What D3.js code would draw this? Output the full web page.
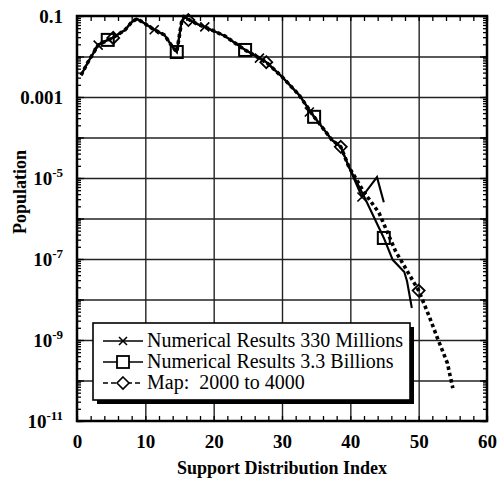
<!DOCTYPE html>
<html><head><meta charset="utf-8">
<script src="https://cdn.jsdelivr.net/npm/d3@7/dist/d3.min.js"></script>
<style>
html,body{margin:0;padding:0;background:#fff;}
svg{display:block;}
text{font-family:"Liberation Serif","Times New Roman",serif;white-space:pre;}
</style></head>
<body>
<svg id="chart" width="498" height="484"></svg>
<script>
// ---------- data ----------
const xTicks = [0, 10, 20, 30, 40, 50, 60];
const yTicks = [1e-1, 1e-3, 1e-5, 1e-7, 1e-9, 1e-11];
const yTickBase = ["0.1", "0.001", "10", "10", "10", "10"];
const yTickExp  = ["", "", "-5", "-7", "-9", "-11"];
const seriesNames = ["Numerical Results 330 Millions", "Numerical Results 3.3 Billions", "Map:  2000 to 4000"];
const xLabel = "Support Distribution Index";
const yLabel = "Population";

// shared main body of the curves
const mainX = [0.6, 1.6, 3.1, 4.4, 5.1, 7.0, 8.0, 8.75, 9.6, 11.1, 12.8, 14.0, 14.6, 15.3, 15.7, 16.5, 17.6, 18.7, 21.6, 24.6, 27.7, 30.0, 32.5, 34.7, 35.4, 37.3, 38.6, 39.8];
const mainY = [3.47e-3, 7.24e-3, 1.91e-2, 2.51e-2, 2.82e-2, 4.47e-2, 7.08e-2, 8.51e-2, 7.08e-2, 4.79e-2, 3.39e-2, 1.70e-2, 1.29e-2, 7.08e-2, 9.55e-2, 7.94e-2, 6.31e-2, 5.37e-2, 3.24e-2, 1.45e-2, 7.24e-3, 3.16e-3, 1.12e-3, 3.24e-4, 2.29e-4, 8.71e-5, 5.89e-5, 1.86e-5];

// tails (each series continues from the shared body)
const tail330X = [41.7, 43.9, 44.9];
const tail330Y = [3.39e-6, 1.05e-5, 2.51e-6];
const tail33bX = [42.0, 44.9, 46.2, 47.9, 48.3, 49.0];
const tail33bY = [3.55e-6, 3.31e-7, 9.55e-8, 4.79e-8, 2.82e-8, 6.17e-9];
const tailMapX = [42.0, 44.2, 46.6, 50.0, 51.5, 52.7, 54.2, 55.0];
const tailMapY = [4.47e-6, 1.38e-6, 1.58e-7, 1.66e-8, 3.98e-9, 1.17e-9, 2.69e-10, 6.46e-11];

// marker positions
const mark330X = [3.1, 11.3, 18.7, 26.7, 34.0, 41.7];
const mark330Y = [1.91e-2, 4.57e-2, 5.37e-2, 9.12e-3, 4.27e-4, 3.39e-6];
const mark33bX = [4.5, 14.6, 24.6, 34.7, 44.9];
const mark33bY = [2.57e-2, 1.29e-2, 1.45e-2, 3.24e-4, 3.31e-7];
const markMapX = [5.3, 16.3, 27.7, 38.6, 50.0];
const markMapY = [2.88e-2, 7.94e-2, 7.24e-3, 5.89e-5, 1.66e-8];

// ---------- drawing ----------
const svg = d3.select("#chart");
const L = 77, R = 487, T = 16, B = 421;
const x = d3.scaleLinear().domain([0, 60]).range([L, R]);
const y = d3.scaleLog().domain([1e-11, 1e-1]).range([B, T]);
const serif = "'Liberation Serif', 'Times New Roman', serif";

// grid lines
const gx = svg.append("g").attr("transform", `translate(0,${B})`)
  .call(d3.axisBottom(x).tickValues([10, 20, 30, 40, 50]).tickSize(-(B - T)).tickFormat(""));
gx.select(".domain").remove();
gx.selectAll("line").attr("stroke", "#222").attr("stroke-width", 1.4);

const decades = d3.range(-10, -1).map(e => Math.pow(10, e));
const gy = svg.append("g").attr("transform", `translate(${L},0)`)
  .call(d3.axisLeft(y).tickValues(decades).tickSize(-(R - L)).tickFormat(""));
gy.select(".domain").remove();
gy.selectAll("line").attr("stroke", "#222").attr("stroke-width", 1.4);

// minor ticks (inward)
const minorX = d3.range(0, 61, 2);
const minorY = [];
for (let e = -11; e < -1; e++) for (let k = 1; k < 10; k++) minorY.push(k * Math.pow(10, e));
minorY.push(1e-1);

function tickAxis(axis, transform, len) {
  const g = svg.append("g").attr("transform", transform).call(axis.tickSize(len).tickFormat(""));
  g.select(".domain").remove();
  g.selectAll("line").attr("stroke", "#000").attr("stroke-width", 1.3);
}
tickAxis(d3.axisTop(x).tickValues(minorX), `translate(0,${B})`, 5);
tickAxis(d3.axisBottom(x).tickValues(minorX), `translate(0,${T})`, 5);
tickAxis(d3.axisRight(y).tickValues(minorY), `translate(${L},0)`, 4);
tickAxis(d3.axisLeft(y).tickValues(minorY), `translate(${R},0)`, 4);
tickAxis(d3.axisRight(y).tickValues(decades.concat([1e-11, 1e-1])), `translate(${L},0)`, 7);
tickAxis(d3.axisLeft(y).tickValues(decades.concat([1e-11, 1e-1])), `translate(${R},0)`, 7);

// frame
svg.append("rect").attr("x", L).attr("y", T).attr("width", R - L).attr("height", B - T)
  .attr("fill", "none").attr("stroke", "#000").attr("stroke-width", 2.5);

// x tick labels
const xl = svg.append("g").attr("transform", `translate(0,${B})`)
  .call(d3.axisBottom(x).tickValues(xTicks).tickSize(0).tickPadding(14).tickFormat(d3.format("d")));
xl.select(".domain").remove();
xl.selectAll("text").attr("font-family", serif).attr("font-weight", "bold")
  .attr("font-size", 19).attr("fill", "#000");

// y tick labels with superscripts
const yl = svg.append("g").attr("transform", `translate(${L},0)`)
  .call(d3.axisLeft(y).tickValues(yTicks).tickSize(0).tickPadding(14).tickFormat(""));
yl.select(".domain").remove();
yl.selectAll("text").each(function(d, i) {
  const t = d3.select(this).attr("font-family", serif).attr("font-weight", "bold")
    .attr("font-size", 19).attr("fill", "#000").attr("dy", "0.32em");
  t.append("tspan").text(yTickBase[i]);
  if (yTickExp[i]) t.append("tspan").attr("font-size", 13).attr("dy", "-0.6em").text(yTickExp[i]);
});

// axis titles
svg.append("text").attr("x", (L + R) / 2).attr("y", 474).attr("text-anchor", "middle")
  .attr("font-family", serif).attr("font-weight", "bold").attr("font-size", 18).text(xLabel);
svg.append("text").attr("transform", `translate(26,${192}) rotate(-90)`).attr("text-anchor", "middle")
  .attr("font-family", serif).attr("font-weight", "bold").attr("font-size", 18).text(yLabel);

// lines
const line = d3.line().x(d => x(d[0])).y(d => y(d[1]));
const zip = (a, b) => a.map((v, i) => [v, b[i]]);
const main = zip(mainX, mainY);
const s330 = main.concat(zip(tail330X, tail330Y));
const s33b = main.concat(zip(tail33bX, tail33bY));
const sMap = main.concat(zip(tailMapX, tailMapY));

svg.append("path").attr("d", line(sMap)).attr("fill", "none").attr("stroke", "#000")
  .attr("stroke-width", 3.6).attr("stroke-dasharray", "3.5,3");
svg.append("path").attr("d", line(s33b)).attr("fill", "none").attr("stroke", "#000").attr("stroke-width", 2.1);
svg.append("path").attr("d", line(s330)).attr("fill", "none").attr("stroke", "#000").attr("stroke-width", 2.1);

// markers
function xMark(g, cx, cy, s) {
  g.append("path").attr("d", `M${cx - s},${cy - s}L${cx + s},${cy + s}M${cx - s},${cy + s}L${cx + s},${cy - s}`)
    .attr("stroke", "#000").attr("stroke-width", 1.6).attr("fill", "none");
}
function sqMark(g, cx, cy, s) {
  g.append("rect").attr("x", cx - s).attr("y", cy - s).attr("width", 2 * s).attr("height", 2 * s)
    .attr("fill", "none").attr("stroke", "#000").attr("stroke-width", 2);
}
function diaMark(g, cx, cy, s) {
  g.append("path").attr("d", `M${cx},${cy - s}L${cx + s},${cy}L${cx},${cy + s}L${cx - s},${cy}Z`)
    .attr("fill", "none").attr("stroke", "#000").attr("stroke-width", 1.8);
}
const mg = svg.append("g");
zip(mark330X, mark330Y).forEach(d => xMark(mg, x(d[0]), y(d[1]), 4.5));
zip(mark33bX, mark33bY).forEach(d => sqMark(mg, x(d[0]), y(d[1]), 6));
zip(markMapX, markMapY).forEach(d => diaMark(mg, x(d[0]), y(d[1]), 6));

// legend
const lg = svg.append("g");
lg.append("rect").attr("x", 97).attr("y", 327).attr("width", 317).attr("height", 77).attr("fill", "#000");
lg.append("rect").attr("x", 93).attr("y", 323).attr("width", 317).attr("height", 77)
  .attr("fill", "#fff").attr("stroke", "#000").attr("stroke-width", 1.6);
const rows = [347, 368, 389];
seriesNames.forEach((name, i) => {
  const ly = rows[i] - 6;
  const ln = lg.append("line").attr("x1", 103).attr("x2", 143).attr("y1", ly).attr("y2", ly)
    .attr("stroke", "#000").attr("stroke-width", 1.6);
  if (i === 2) ln.attr("stroke-dasharray", "5,3");
  if (i === 0) xMark(lg, 123, ly, 4);
  if (i === 1) { lg.append("rect").attr("x", 117).attr("y", ly - 6).attr("width", 12).attr("height", 12)
    .attr("fill", "#fff").attr("stroke", "#000").attr("stroke-width", 1.8); }
  if (i === 2) { lg.append("path").attr("d", `M123,${ly - 6}L129,${ly}L123,${ly + 6}L117,${ly}Z`)
    .attr("fill", "#fff").attr("stroke", "#000").attr("stroke-width", 1.6); }
  lg.append("text").attr("x", 147).attr("y", rows[i]).attr("font-family", serif)
    .attr("font-size", 20).attr("fill", "#000").text(name);
});
</script>
</body></html>
